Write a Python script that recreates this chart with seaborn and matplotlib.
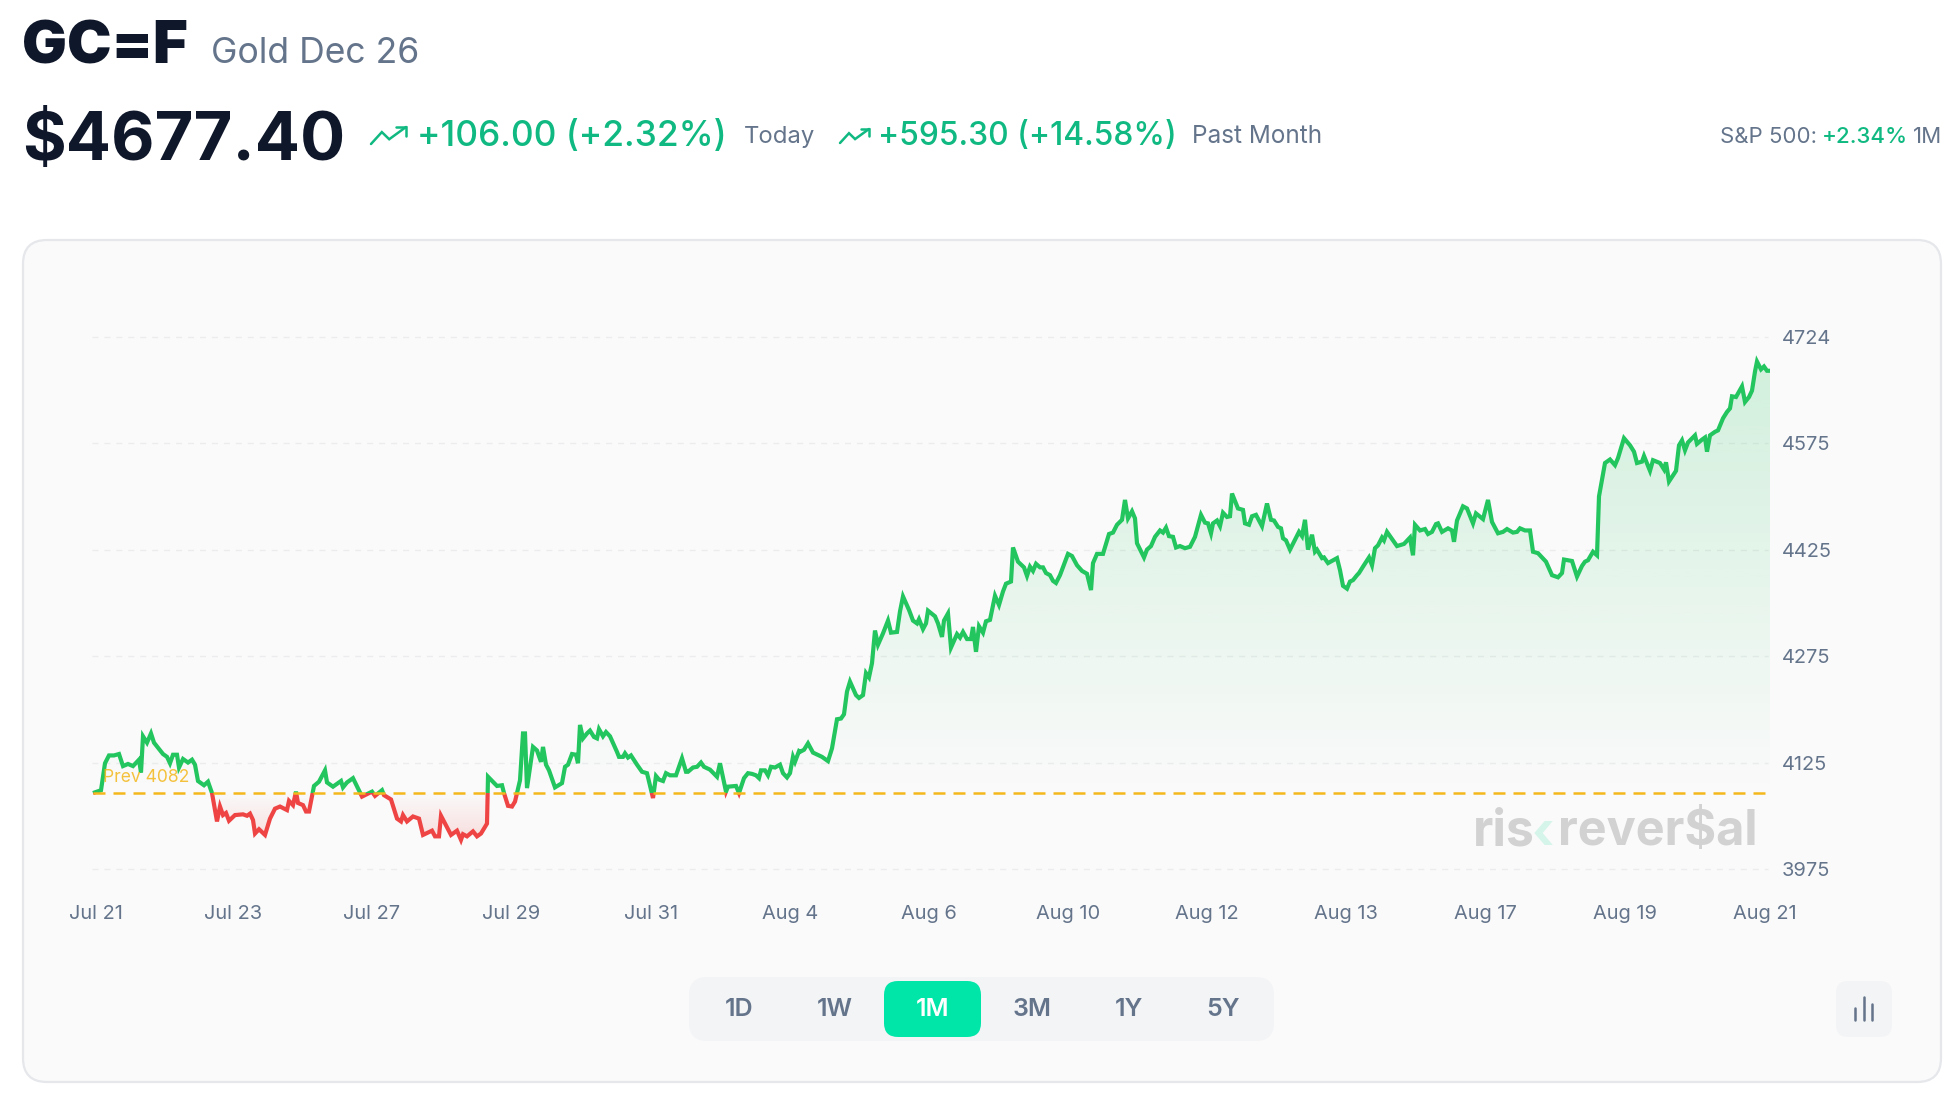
import matplotlib
matplotlib.use("Agg")
import numpy as np
import pandas as pd
import seaborn as sns
import matplotlib.pyplot as plt
from matplotlib.patches import FancyBboxPatch, Polygon, Rectangle

# bar number along the month and the price there
bars_a = [0, 8, 12, 16, 21, 26, 30, 35, 40, 46, 48, 50, 54, 58, 61, 70, 74, 77, 80, 84, 86, 90, 95, 99, 102, 105, 111, 115, 119,
          124, 127, 130, 133, 136, 142, 150, 154, 157, 160, 162, 166, 172, 177, 182, 187, 194, 196, 200, 203, 205, 210, 213, 216,
          221, 226, 232, 234, 240, 248, 250, 254, 260, 269, 279, 282, 289, 291, 298, 304, 308, 310, 314, 320, 326, 330, 339, 342,
          346, 348, 358, 364, 368, 370, 374, 380, 384, 388, 394, 395, 404, 409, 411, 415, 419, 422, 427]
price_a = [4082, 4086, 4124, 4135, 4135, 4137, 4120, 4123, 4120, 4129, 4111, 4162, 4153, 4166, 4153, 4137, 4133, 4124, 4136, 4136, 4118, 4130, 4125, 4129, 4122, 4099, 4093, 4098, 4082,
           4042, 4063, 4051, 4054, 4043, 4051, 4052, 4050, 4053, 4044, 4025, 4031, 4023, 4046, 4060, 4063, 4058, 4071, 4065, 4084, 4068, 4065, 4056, 4056,
           4092, 4098, 4114, 4097, 4091, 4099, 4090, 4097, 4103, 4077, 4084, 4078, 4086, 4079, 4073, 4046, 4042, 4051, 4042, 4049, 4046, 4023, 4029, 4021,
           4021, 4050, 4023, 4029, 4016, 4024, 4021, 4028, 4021, 4025, 4039, 4105, 4092, 4093, 4082, 4064, 4063, 4070, 4100]

bars_b = [430, 432, 434, 440, 444, 448, 450, 453, 456, 462, 469, 472, 475, 479, 483, 485, 487, 490, 494, 497, 501, 504, 506, 510, 513, 517,
          524, 526, 530, 532, 535, 538, 544, 549, 554, 560, 563, 566, 570, 573, 577, 583, 589, 593, 595, 600, 604, 608, 611, 617, 624, 627, 633, 635,
          643, 646, 651, 655, 659, 663, 666, 668, 672, 675, 678, 682, 687, 690, 694, 697, 700, 702, 706]
price_b = [4166, 4166, 4089, 4147, 4142, 4126, 4147, 4122, 4114, 4090, 4096, 4119, 4122, 4137, 4136, 4124, 4178, 4159, 4166, 4170, 4161, 4159, 4172, 4162, 4168, 4162,
           4140, 4133, 4133, 4138, 4132, 4135, 4122, 4112, 4110, 4075, 4106, 4101, 4099, 4110, 4107, 4107, 4131, 4112, 4112, 4118, 4119, 4125, 4119, 4115, 4105, 4124, 4084, 4091,
           4092, 4082, 4103, 4110, 4109, 4107, 4103, 4114, 4114, 4107, 4119, 4118, 4122, 4110, 4104, 4110, 4133, 4126, 4141]

bars_c = [707, 711, 715, 720, 729, 735, 739, 744, 748, 751, 754, 757, 763, 766, 770, 773, 776, 779, 782, 785, 790, 795, 798, 804, 807, 810, 816,
          820, 824, 826, 830, 833, 835, 842, 845, 849, 851, 855, 858, 864, 867, 870, 874, 878, 880, 883, 886, 890, 893, 897, 902, 906, 910, 913, 918,
          920, 925, 931, 934, 937, 940, 943, 947, 950, 953, 957, 960, 963, 967, 975, 979, 984, 989, 994, 998, 1000, 1004, 1010, 1014, 1016, 1020, 1024, 1029,
          1032, 1035, 1039, 1042, 1044, 1051, 1054, 1058, 1062, 1067, 1070, 1073, 1076, 1080, 1083, 1087, 1092, 1097, 1102, 1108, 1112, 1115, 1118, 1120, 1124, 1127]
price_c = [4140, 4143, 4152, 4139, 4133, 4127, 4145, 4186, 4187, 4193, 4225, 4239, 4220, 4216, 4220, 4251, 4245, 4265, 4311, 4291, 4307, 4325, 4308, 4309, 4338, 4359, 4340,
           4325, 4321, 4327, 4313, 4321, 4339, 4331, 4321, 4302, 4325, 4335, 4287, 4306, 4301, 4309, 4299, 4299, 4316, 4281, 4317, 4308, 4324, 4326, 4360, 4347, 4366, 4377, 4380,
           4428, 4408, 4400, 4388, 4401, 4395, 4405, 4400, 4400, 4392, 4389, 4381, 4378, 4389, 4419, 4416, 4403, 4395, 4391, 4368, 4406, 4419, 4419, 4438, 4447, 4449, 4460, 4467,
           4495, 4469, 4479, 4469, 4434, 4414, 4425, 4430, 4443, 4452, 4449, 4456, 4444, 4443, 4428, 4430, 4427, 4429, 4443, 4474, 4463, 4462, 4448, 4462, 4466, 4458]

bars_d = [1130, 1134, 1137, 1139, 1145, 1150, 1152, 1156, 1159, 1163, 1169, 1174, 1178, 1181, 1185, 1188, 1190, 1193, 1197, 1206, 1209, 1212, 1215, 1219, 1222, 1224, 1229, 1231, 1235,
          1244, 1247, 1250, 1254, 1257, 1260, 1264, 1266, 1270, 1276, 1279, 1282, 1285, 1289, 1291, 1294, 1304, 1311, 1317, 1320, 1322, 1327, 1332, 1335, 1339, 1343, 1345, 1349, 1355, 1359,
          1361, 1364, 1370, 1374, 1380, 1383, 1390, 1395, 1399, 1405, 1410, 1414, 1420, 1424, 1427, 1432, 1437, 1440, 1445, 1453, 1459, 1465, 1469, 1471, 1479, 1484, 1489, 1492, 1495, 1500, 1504]
price_d = [4477, 4471, 4472, 4504, 4483, 4481, 4462, 4460, 4472, 4474, 4458, 4490, 4467, 4466, 4457, 4455, 4441, 4438, 4425, 4450, 4444, 4467, 4425, 4446, 4422, 4425, 4413, 4414, 4406,
           4413, 4396, 4374, 4370, 4380, 4382, 4389, 4392, 4401, 4414, 4403, 4427, 4431, 4442, 4438, 4450, 4430, 4433, 4442, 4417, 4460, 4452, 4454, 4447, 4450, 4461, 4462, 4450, 4455, 4452,
           4436, 4466, 4486, 4483, 4462, 4476, 4468, 4495, 4464, 4448, 4450, 4454, 4449, 4450, 4455, 4452, 4452, 4422, 4420, 4408, 4389, 4386, 4392, 4411, 4409, 4387, 4402, 4408, 4410, 4422, 4417]

bars_e = [1506, 1512, 1517, 1522, 1525, 1531, 1537, 1541, 1544, 1549, 1551, 1557, 1560, 1567, 1571, 1573, 1576, 1583, 1586, 1589, 1592, 1595, 1602, 1604, 1609, 1612, 1614, 1617,
          1622, 1625, 1630, 1634, 1637, 1639, 1643, 1649, 1652, 1656, 1659, 1662, 1664, 1668, 1671, 1674, 1677]
price_e = [4500, 4547, 4552, 4544, 4554, 4582, 4572, 4563, 4547, 4549, 4557, 4536, 4551, 4547, 4538, 4548, 4521, 4536, 4572, 4579, 4565, 4576, 4586, 4574, 4580, 4583, 4563, 4586,
           4591, 4593, 4610, 4619, 4624, 4641, 4640, 4655, 4633, 4640, 4649, 4676, 4690, 4679, 4683, 4677, 4677]

prev_close = 4082
y_ticks = [3975, 4125, 4275, 4425, 4575, 4724]
x_labels = ["Jul 21", "Jul 23", "Jul 27", "Jul 29", "Jul 31", "Aug 4", "Aug 6", "Aug 10", "Aug 12", "Aug 13", "Aug 17", "Aug 19", "Aug 21"]
x_tick_bars = [3, 140, 279, 418, 558, 697, 836, 975, 1114, 1253, 1392, 1532, 1672]
ranges = ["1D", "1W", "1M", "3M", "1Y", "5Y"]
range_x = [739, 835, 933, 1032, 1129, 1223]

GREEN = "#22c55e"
RED = "#ef4444"
GOLD = "#f4b81c"
SLATE = "#64748b"
DARK = "#0f172a"
UP = "#10b981"

df = pd.DataFrame({"bar": bars_a + bars_b + bars_c + bars_d + bars_e,
                   "price": price_a + price_b + price_c + price_d + price_e})

sns.set_theme(style="white")
plt.rcParams["font.family"] = ["Inter", "DejaVu Sans"]

W, H = 1960, 1106
fig = plt.figure(figsize=(W / 100, H / 100), dpi=100, facecolor="white")

# page layer in pixels: card, header, buttons
bg = fig.add_axes([0, 0, 1, 1], zorder=0)
bg.set_xlim(0, W)
bg.set_ylim(H, 0)
bg.axis("off")


def box(ax, x0, y0, x1, y1, r, fc, ec="none", lw=0):
    ax.add_patch(FancyBboxPatch((x0 + r, y0 + r), x1 - x0 - 2 * r, y1 - y0 - 2 * r,
                                boxstyle=f"round,pad={r},rounding_size={r}", fc=fc, ec=ec, lw=lw))


def trend_icon(ax, x, y, w, h, color):
    # little "trending up" arrow next to the numbers
    ax.plot([x, x + 0.31 * w, x + 0.52 * w, x + w], [y + h, y + 0.3 * h, y + 0.72 * h, y], color=color, lw=1.8,
            solid_joinstyle="miter")
    ax.plot([x + 0.72 * w, x + w, x + w], [y, y, y + 0.5 * h], color=color, lw=1.8, solid_joinstyle="miter")


box(bg, 23, 240, 1941, 1082, 24, "#fafafa", "#e5e7eb", 1.6)

bg.text(22, 63, "GC=F", fontsize=43, fontweight="black", color=DARK, va="baseline")
bg.text(211, 63, "Gold Dec 26", fontsize=25.6, color=SLATE, va="baseline")
bg.text(22, 160, "$4677.40", fontsize=48.2, fontweight="bold", color=DARK, va="baseline")
trend_icon(bg, 371, 127, 35, 17, UP)
bg.text(417, 146, "+106.00 (+2.32%)", fontsize=25.4, fontweight="medium", color=UP, va="baseline")
bg.text(744, 143, "Today", fontsize=17.2, color=SLATE, va="baseline")
trend_icon(bg, 840, 129, 29, 14, UP)
bg.text(878, 145, "+595.30 (+14.58%)", fontsize=22.9, fontweight="medium", color=UP, va="baseline")
bg.text(1192, 143, "Past Month", fontsize=17.5, color=SLATE, va="baseline")
bg.text(1720, 143, "S&P 500:", fontsize=16, color=SLATE, va="baseline")
bg.text(1822, 143, "+2.34%", fontsize=16, fontweight="medium", color=UP, va="baseline")
bg.text(1913, 143, "1M", fontsize=16, color=SLATE, va="baseline")

# range buttons
box(bg, 689, 977, 1274, 1041, 18, "#f3f4f6")
box(bg, 884, 981, 981, 1037, 14, "#00e6a8")
for label, x in zip(ranges, range_x):
    bg.text(x, 1010, label, fontsize=18, fontweight="semibold", color="white" if label == "1M" else SLATE,
            ha="center", va="center")

# chart type button
box(bg, 1836, 981, 1892, 1037, 12, "#f3f4f6")
for x, top in zip([1855, 1864, 1872], [1008, 997, 1004]):
    bg.plot([x, x], [top, 1020], color=SLATE, lw=1.8, solid_capstyle="round")

# price chart, one bar is one pixel wide
ax = fig.add_axes([93 / W, 1 - 869 / H, 1677 / W, (869 - 336.7) / H], zorder=2)
ax.patch.set_alpha(0)
ax.set_xlim(0, 1677)
ax.set_ylim(3975, 4725)

for v in y_ticks:
    ax.plot([-1, 1675], [v, v], color="#ececee", lw=1.0, dashes=(4.3, 4.3), zorder=1, clip_on=False)

# gradient under the line, above and below the previous close
outline = Polygon(np.column_stack([[df["bar"].iloc[0]] + df["bar"].tolist() + [df["bar"].iloc[-1]],
                                   [prev_close] + df["price"].tolist() + [prev_close]]),
                  closed=True, transform=ax.transData, fc="none", ec="none")
ax.add_patch(outline)

green_fade = np.zeros((256, 1, 4))
green_fade[:, 0, :3] = matplotlib.colors.to_rgb(GREEN)
green_fade[:, 0, 3] = np.linspace(0.2, 0, 256)
im = ax.imshow(green_fade, extent=(0, 1677, prev_close, 4725), aspect="auto", zorder=2)
im.set_clip_path(outline)

red_fade = np.zeros((256, 1, 4))
red_fade[:, 0, :3] = matplotlib.colors.to_rgb(RED)
red_fade[:, 0, 3] = np.linspace(0, 0.2, 256)
im2 = ax.imshow(red_fade, extent=(0, 1677, 4000, prev_close), aspect="auto", zorder=2)
im2.set_clip_path(outline)
ax.set_xlim(0, 1677)
ax.set_ylim(3975, 4725)

# same line drawn twice, each colour only shows on its side of the previous close
sides = [(GREEN, prev_close, 4725), (RED, 3975, prev_close)]
for color, low, high in sides:
    n = len(ax.lines)
    sns.lineplot(data=df, x="bar", y="price", sort=False, estimator=None, errorbar=None, color=color, lw=3.0, ax=ax, zorder=4)
    line = ax.lines[n]
    line.set_solid_joinstyle("miter")
    line.set_solid_capstyle("butt")
    line.set_clip_path(Rectangle((-5, low), 1690, high - low, transform=ax.transData))

ax.plot([0, 1672], [prev_close, prev_close], color=GOLD, lw=1.8, dashes=(4.8, 3.2), zorder=5, clip_on=False)
ax.text(10, prev_close + 22.5, f"Prev {prev_close}", fontsize=12.6, color=GOLD, alpha=0.85, va="center", zorder=6)

sns.despine(ax=ax, left=True, bottom=True)
ax.set_xlabel("")
ax.set_ylabel("")
ax.set_xticks(x_tick_bars)
ax.set_xticklabels(x_labels, fontsize=14.4, color=SLATE)
ax.yaxis.tick_right()
ax.set_yticks(y_ticks)
ax.set_yticklabels(y_ticks, fontsize=14.4, color=SLATE)
for t in ax.get_yticklabels():
    t.set_va("center_baseline")
ax.tick_params(axis="x", length=0, pad=26)
ax.tick_params(axis="y", length=0, pad=8.5)
ax.grid(False)

# watermark
top = fig.add_axes([0, 0, 1, 1], zorder=3)
top.set_xlim(0, W)
top.set_ylim(H, 0)
top.axis("off")
top.text(1473, 845, "ris", fontsize=36, fontweight="bold", color="#d2d2d2", va="baseline")
top.text(1532, 849, "‹", fontsize=38, fontweight="bold", color="#d6f5ea", va="baseline")
top.text(1558, 845, "rever$al", fontsize=35, fontweight="bold", color="#d2d2d2", va="baseline")

fig.savefig("out.png", dpi=100)
